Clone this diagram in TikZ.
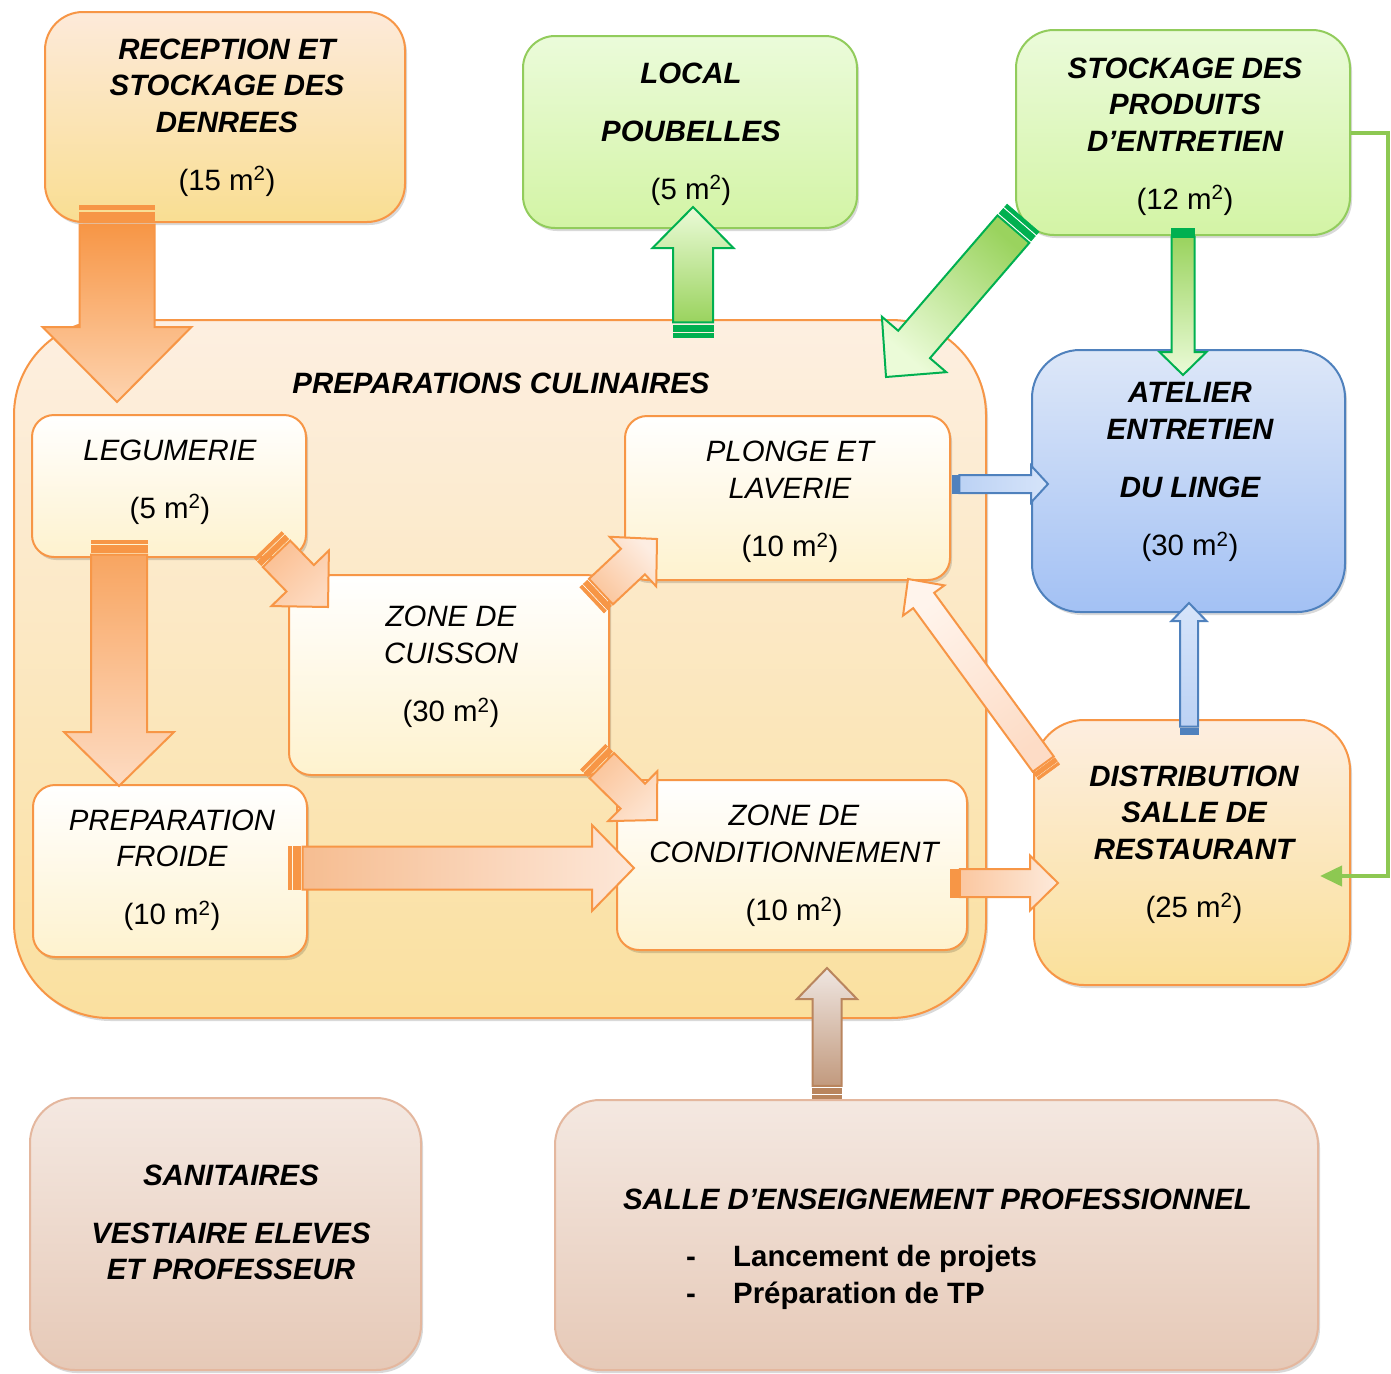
\documentclass[tikz,border=0pt]{standalone}
\usepackage{fontspec}
\setmainfont{Liberation Sans}
\usetikzlibrary{calc,arrows.meta,shadows}

\definecolor{orb}{HTML}{F79646}
\definecolor{grb}{HTML}{00B050}
\definecolor{grbox}{HTML}{92CC5C}
\definecolor{glin}{HTML}{8DC852}
\definecolor{blb}{HTML}{4F81BD}
\definecolor{brb}{HTML}{B9855E}
\definecolor{brbox}{HTML}{E4B79E}

\newcommand\fs{\fontsize{29.4}{36.5}\selectfont}
\newcommand\ftop{\rule{0pt}{22pt}}
\newcommand\fbot{\rule[-7pt]{0pt}{7pt}}
\newcommand\area[1]{{\upshape\mdseries(#1 m\textsuperscript{2})}}

% #1 body options, #2 stripe colour, #3 tail, #4 tip, #5 half shaft, #6 half head, #7 head length, #8 stripe unit
\newcommand\blockarrow[8]{%
  \coordinate (ba-h) at ($(#4)!#7!(#3)$);
  \coordinate (ba-a) at ($(#3)!1.2*#8!(#4)$);
  \coordinate (ba-b) at ($(#3)!1.9*#8!(#4)$);
  \coordinate (ba-c) at ($(#3)!4*#8!(#4)$);
  \coordinate (ba-d) at ($(#3)!4.9*#8!(#4)$);
  \path[barr,#1] ($(ba-d)!#5!90:(#4)$) -- ($(ba-h)!#5!90:(#4)$) -- ($(ba-h)!#6!90:(#4)$) -- (#4)
     -- ($(ba-h)!#6!-90:(#4)$) -- ($(ba-h)!#5!-90:(#4)$) -- ($(ba-d)!#5!-90:(#4)$) -- cycle;
  \path[sarr,fill=#2,draw=#2] ($(#3)!#5!90:(#4)$) -- ($(ba-a)!#5!90:(#4)$) -- ($(ba-a)!#5!-90:(#4)$) -- ($(#3)!#5!-90:(#4)$) -- cycle;
  \path[sarr,fill=#2,draw=#2] ($(ba-b)!#5!90:(#4)$) -- ($(ba-c)!#5!90:(#4)$) -- ($(ba-c)!#5!-90:(#4)$) -- ($(ba-b)!#5!-90:(#4)$) -- cycle;
}

\tikzset{
  box/.style={rectangle, inner sep=0pt, line width=2pt,
    drop shadow={shadow xshift=2pt, shadow yshift=-3pt, opacity=0.15, fill=black}},
  barr/.style={line width=2pt, line join=miter},
  sarr/.style={line width=0.8pt, line join=miter},
  txt/.style={inner sep=0pt, align=center, font=\fs\itshape},
  btxt/.style={inner sep=0pt, align=center, font=\fs\bfseries\itshape},
}

\begin{document}
\begin{tikzpicture}[x=1pt,y=-1pt]
\useasboundingbox (0,0) rectangle (1391,1373);
\fill[white] (0,0) rectangle (1391,1373);

% ---------- boxes ----------
\node[box, draw=orb, top color={rgb,255:red,253;green,239;blue,225}, bottom color={rgb,255:red,250;green,224;blue,159},
      minimum width=972pt, minimum height=698pt, rounded corners=95pt] (big) at (500,669) {};

\node[box, draw=orb, top color={rgb,255:red,253;green,234;blue,218}, bottom color={rgb,255:red,249;green,222;blue,146},
      minimum width=360pt, minimum height=210pt, rounded corners=38pt] (rec) at (225,117) {};
\node[box, draw=grbox, top color={rgb,255:red,235;green,251;blue,218}, bottom color={rgb,255:red,211;green,244;blue,165},
      minimum width=334pt, minimum height=192pt, rounded corners=32pt] (loc) at (690,132) {};
\node[box, draw=grbox, top color={rgb,255:red,235;green,251;blue,218}, bottom color={rgb,255:red,211;green,244;blue,165},
      minimum width=334pt, minimum height=205pt, rounded corners=38pt] (sto) at (1183,132.5) {};

\tikzset{inner/.style={box, draw=orb, top color=white, bottom color={rgb,255:red,254;green,242;blue,206},
      rounded corners=22pt}}
\node[inner, minimum width=274pt, minimum height=142pt] (leg) at (169,486) {};
\node[inner, minimum width=320pt, minimum height=200pt] (cui) at (449,675) {};
\node[inner, minimum width=325pt, minimum height=164pt] (plo) at (787.5,498) {};
\node[inner, minimum width=274pt, minimum height=172pt] (pf) at (170,871) {};
\node[inner, minimum width=350pt, minimum height=170pt] (con) at (792,865) {};

\node[box, draw=blb, top color={rgb,255:red,221;green,231;blue,248}, bottom color={rgb,255:red,163;green,193;blue,244},
      minimum width=313pt, minimum height=262pt, rounded corners=48pt] (ate) at (1188.5,481) {};
\node[box, draw=orb, top color={rgb,255:red,253;green,238;blue,224}, bottom color={rgb,255:red,250;green,224;blue,154},
      minimum width=316pt, minimum height=265pt, rounded corners=50pt] (dis) at (1192,852.5) {};

\node[box, draw=brbox, top color={rgb,255:red,244;green,232;blue,225}, bottom color={rgb,255:red,230;green,201;blue,183},
      minimum width=391pt, minimum height=272pt, rounded corners=45pt] (san) at (225.5,1234) {};
\node[box, draw=brbox, top color={rgb,255:red,244;green,232;blue,225}, bottom color={rgb,255:red,230;green,201;blue,183},
      minimum width=763pt, minimum height=270pt, rounded corners=45pt] (sal) at (936.5,1235) {};

% ---------- arrow end points ----------
\coordinate (a1t) at (117,205);   \coordinate (a1h) at (117,402);
\coordinate (a2t) at (119,540);   \coordinate (a2h) at (119,786);
\coordinate (a3t) at (268,545);   \coordinate (a3h) at (328,607);
\coordinate (a4t) at (592,600);   \coordinate (a4h) at (657,539);
\coordinate (a5t) at (593,757);   \coordinate (a5h) at (657,820);
\coordinate (a6t) at (288,868);   \coordinate (a6h) at (634,868);
\coordinate (a7t) at (950,883);   \coordinate (a7h) at (1058,883);
\coordinate (a8t) at (1049,772);  \coordinate (a8h) at (908,579);
\coordinate (a9t) at (952,484);   \coordinate (a9h) at (1048,484);
\coordinate (a10t) at (1189,734); \coordinate (a10h) at (1189,603);
\coordinate (a11t) at (693,337);  \coordinate (a11h) at (693,207);
\coordinate (a12t) at (1023,218); \coordinate (a12h) at (886,377);
\coordinate (a13t) at (1183,228); \coordinate (a13h) at (1183,375);
\coordinate (a15t) at (827,1098); \coordinate (a15h) at (827,968);

% ---------- block arrows ----------
\blockarrow{draw=orb, top color=orb, bottom color={rgb,255:red,253;green,211;blue,175}, shading angle=0}{orb}{a1t}{a1h}{37.5pt}{74.5pt}{75pt}{4pt}
\blockarrow{draw=orb, top color={rgb,255:red,248;green,165;blue,97}, bottom color={rgb,255:red,253;green,219;blue,194}, shading angle=0}{orb}{a2t}{a2h}{28pt}{55pt}{54pt}{3pt}
\blockarrow{draw=orb, top color={rgb,255:red,251;green,191;blue,146}, bottom color={rgb,255:red,253;green,218;blue,192}, shading angle=44}{orb}{a3t}{a3h}{19pt}{40pt}{40pt}{2.5pt}
\blockarrow{draw=orb, top color={rgb,255:red,251;green,197;blue,155}, bottom color={rgb,255:red,253;green,237;blue,226}, shading angle=133}{orb}{a4t}{a4h}{17.5pt}{34pt}{33pt}{2.5pt}
\blockarrow{draw=orb, top color={rgb,255:red,251;green,197;blue,155}, bottom color={rgb,255:red,253;green,227;blue,207}, shading angle=45}{orb}{a5t}{a5h}{17.5pt}{35pt}{34pt}{2.5pt}
\blockarrow{draw=orb, top color={rgb,255:red,246;green,189;blue,145}, bottom color={rgb,255:red,253;green,231;blue,216}, shading angle=90}{orb}{a6t}{a6h}{21.5pt}{43pt}{42pt}{3pt}
\blockarrow{draw=orb, top color={rgb,255:red,251;green,199;blue,160}, bottom color={rgb,255:red,253;green,234;blue,219}, shading angle=90}{orb}{a7t}{a7h}{14pt}{27.5pt}{28pt}{2pt}
\blockarrow{draw=orb, top color={rgb,255:red,253;green,220;blue,198}, bottom color={rgb,255:red,255;green,244;blue,236}, shading angle=216}{orb}{a8t}{a8h}{13pt}{25.6pt}{26.6pt}{2pt}
\blockarrow{draw=blb, top color={rgb,255:red,188;green,210;blue,244}, bottom color={rgb,255:red,214;green,228;blue,250}, shading angle=90}{blb}{a9t}{a9h}{9pt}{18.5pt}{17pt}{1.5pt}
\blockarrow{draw=blb, top color={rgb,255:red,188;green,210;blue,244}, bottom color={rgb,255:red,214;green,228;blue,250}, shading angle=180}{blb}{a10t}{a10h}{9pt}{17.5pt}{18pt}{1.5pt}
\blockarrow{draw=grb, top color={rgb,255:red,154;green,211;blue,94}, bottom color={rgb,255:red,235;green,251;blue,216}, shading angle=180}{grb}{a11t}{a11h}{20pt}{40.5pt}{41pt}{3pt}
\blockarrow{draw=grb, top color={rgb,255:red,154;green,211;blue,94}, bottom color={rgb,255:red,235;green,251;blue,216}, shading angle=319}{grb}{a12t}{a12h}{21pt}{42.5pt}{43pt}{3pt}
\blockarrow{draw=grb, top color={rgb,255:red,154;green,211;blue,94}, bottom color={rgb,255:red,235;green,251;blue,216}, shading angle=0}{grb}{a13t}{a13h}{11.5pt}{23.5pt}{23pt}{1.8pt}
\blockarrow{draw=brb, top color={rgb,255:red,194;green,154;blue,126}, bottom color={rgb,255:red,239;green,230;blue,225}, shading angle=180}{brb}{a15t}{a15h}{14.5pt}{30pt}{31pt}{2.5pt}

% ---------- green connector ----------
\coordinate (gc1) at (1388,132.5);
\coordinate (gc2) at (1388,876);
\coordinate (dis-in) at (1320,876);
\draw[glin, line width=4pt, line join=miter, -{Triangle[length=22pt,width=20pt]}] (sto.east) -- (gc1) -- (gc2) -- (dis-in);

% ---------- texts ----------
\node[btxt, anchor=base] (big-t) at (501,393) {PREPARATIONS CULINAIRES};
\node[btxt] (rec-t) at (227,117) {\ftop RECEPTION ET\\STOCKAGE DES\\DENREES\\[21.5pt]\area{15}\fbot};
\node[btxt] (loc-t) at (691,133.5) {\ftop LOCAL\\[21.5pt]POUBELLES\\[21.5pt]\area{5}\fbot};
\node[btxt] (sto-t) at (1185,136) {\ftop STOCKAGE DES\\PRODUITS\\D’ENTRETIEN\\[21.5pt]\area{12}\fbot};
\node[txt] (leg-t) at (170,481.5) {\ftop LEGUMERIE\\[21.5pt]\area{5}\fbot};
\node[txt] (cui-t) at (451,666.5) {\ftop ZONE DE\\CUISSON\\[21.5pt]\area{30}\fbot};
\node[txt] (plo-t) at (790,501.5) {\ftop PLONGE ET\\LAVERIE\\[21.5pt]\area{10}\fbot};
\node[txt] (pf-t) at (172,870) {\ftop PREPARATION\\FROIDE\\[21.5pt]\area{10}\fbot};
\node[txt] (con-t) at (794,865.5) {\ftop ZONE DE\\CONDITIONNEMENT\\[21.5pt]\area{10}\fbot};
\node[btxt] (ate-t) at (1190,471.5) {\ftop ATELIER\\ENTRETIEN\\[21.5pt]DU LINGE\\[21.5pt]\area{30}\fbot};
\node[btxt] (dis-t) at (1194,844) {\ftop DISTRIBUTION\\SALLE DE\\RESTAURANT\\[21.5pt]\area{25}\fbot};
\node[btxt] (san-t) at (231,1225) {\ftop SANITAIRES\\[21.5pt]VESTIAIRE ELEVES\\ET PROFESSEUR\fbot};
\node[btxt, anchor=base] (sal-t) at (937.5,1209) {SALLE D’ENSEIGNEMENT PROFESSIONNEL};
\node[inner sep=0pt, align=left, font=\fs\bfseries, anchor=west] (sal-l) at (686,1277.5)
  {\ftop\makebox[47pt][l]{-}Lancement de projets\\\makebox[47pt][l]{-}Préparation de TP\fbot};
\end{tikzpicture}
\end{document}
